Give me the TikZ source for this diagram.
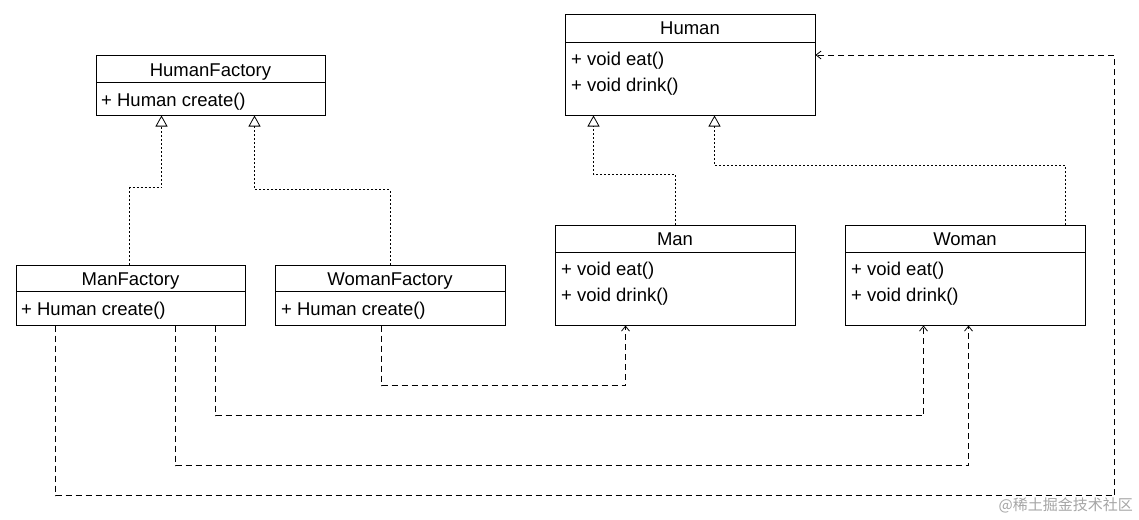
\documentclass[tikz,border=0pt]{standalone}
\usepackage{fontspec}
\setmainfont{Liberation Sans}
\newfontfamily\cjk{Noto Sans CJK SC}
\usetikzlibrary{arrows.meta}
\begin{document}
\begin{tikzpicture}[x=1pt,y=-1pt,
  cls/.style={draw=black,line width=1pt,rectangle,inner sep=0pt},
  ttl/.style={font=\fontsize{18.5}{20}\selectfont,anchor=base,inner sep=0pt},
  mem/.style={font=\fontsize{18.5}{20}\selectfont,anchor=base west,inner sep=0pt},
  divl/.style={line width=0.8pt},
  inh/.style={line width=0.8pt,dash pattern=on 2pt off 2pt,-{Triangle[open,length=11pt,width=12pt,line width=0.8pt]}},
  dep/.style={line width=0.8pt,dash pattern=on 6pt off 4pt,-{Straight Barb[length=5pt,width=8pt,line width=0.8pt]}}]
\useasboundingbox (0,0) rectangle (1139,519);
\fill[white] (0,0) rectangle (1139,519);
% HumanFactory
\node[cls,minimum width=229pt,minimum height=59pt] (hf) at (210.5,85.5) {};
\draw[divl] (96,82) -- (325,82);
\node[ttl] (hft) at (210.5,76) {HumanFactory};
\node[mem] (hfm) at (101,106) {+ Human create()};
% ManFactory
\node[cls,minimum width=229pt,minimum height=60pt] (mf) at (130.5,295) {};
\draw[divl] (16,291) -- (245,291);
\node[ttl] (mft) at (130.5,285) {ManFactory};
\node[mem] (mfm) at (21,315) {+ Human create()};
% WomanFactory
\node[cls,minimum width=230pt,minimum height=60pt] (wf) at (390,295) {};
\draw[divl] (275,291) -- (505,291);
\node[ttl] (wft) at (390,285) {WomanFactory};
\node[mem] (wfm) at (281,315) {+ Human create()};
% Human
\node[cls,minimum width=250pt,minimum height=100pt] (hu) at (690,65) {};
\draw[divl] (565,42) -- (815,42);
\node[ttl] (hut) at (690,35) {Human};
\node[mem] (hum1) at (571,65) {+ void eat()};
\node[mem] (hum2) at (571,91) {+ void drink()};
% Man
\node[cls,minimum width=240pt,minimum height=100pt] (man) at (675,275) {};
\draw[divl] (555,252) -- (795,252);
\node[ttl] (mant) at (675,245) {Man};
\node[mem] (manm1) at (561,275) {+ void eat()};
\node[mem] (manm2) at (561,301) {+ void drink()};
% Woman
\node[cls,minimum width=240pt,minimum height=100pt] (wo) at (965,275) {};
\draw[divl] (845,252) -- (1085,252);
\node[ttl] (wot) at (965,245) {Woman};
\node[mem] (wom1) at (851,275) {+ void eat()};
\node[mem] (wom2) at (851,301) {+ void drink()};
% inheritance
\draw[inh] ([xshift=114pt]mf.north west) -- ++(0,-77) -| ([xshift=66pt]hf.south west);
\draw[inh] (wf.north) -- ++(0,-75) -| ([xshift=159pt]hf.south west);
\draw[inh] ([xshift=121pt]man.north west) -- ++(0,-50) -| ([xshift=29pt]hu.south west);
\draw[inh] ([xshift=221pt]wo.north west) -- ++(0,-59) -| ([xshift=150pt]hu.south west);
% dependencies
\draw[dep] ([xshift=107pt]wf.south west) -- ++(0,60) -| ([xshift=71pt]man.south west);
\draw[dep] ([xshift=200pt]mf.south west) -- ++(0,90) -| ([xshift=79pt]wo.south west);
\draw[dep] ([xshift=160pt]mf.south west) -- ++(0,140) -| ([xshift=124pt]wo.south west);
\draw[dep] ([xshift=40pt]mf.south west) -- ++(0,170) -- ++(1059,0) |- ([yshift=10pt]hu.east);
% watermark
\node[font=\cjk\fontsize{15}{17}\selectfont,text=black!35,anchor=east,inner sep=0pt] (wm) at (1133,505) {@稀土掘金技术社区};
\end{tikzpicture}
\end{document}
